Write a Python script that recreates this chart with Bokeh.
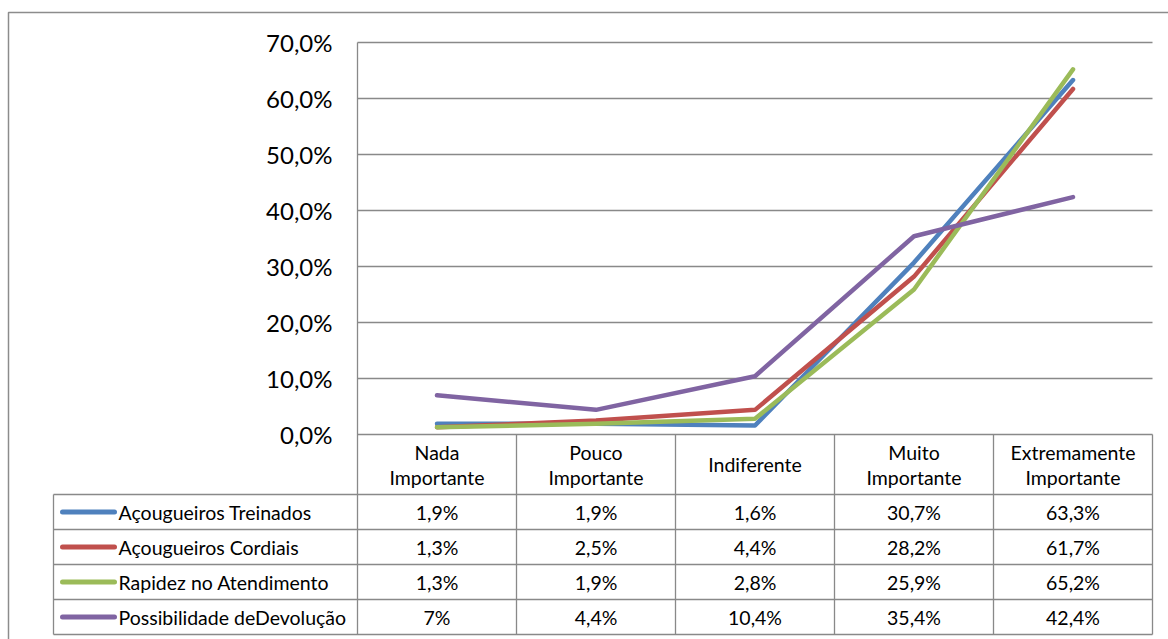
from bokeh.plotting import figure
from bokeh.models import Range1d
from bokeh.core.properties import value
from bokeh.embed import file_html
from bokeh.resources import INLINE

# ---- data -------------------------------------------------------------
categories = ["Nada Importante", "Pouco Importante", "Indiferente",
              "Muito Importante", "Extremamente Importante"]
category_lines = [["Nada", "Importante"], ["Pouco", "Importante"], ["Indiferente"],
                  ["Muito", "Importante"], ["Extremamente", "Importante"]]
series_names = ["Açougueiros Treinados", "Açougueiros Cordiais",
                "Rapidez no Atendimento", "Possibilidade deDevolução"]
treinados = [1.9, 1.9, 1.6, 30.7, 63.3]
cordiais = [1.3, 2.5, 4.4, 28.2, 61.7]
rapidez = [1.3, 1.9, 2.8, 25.9, 65.2]
devolucao = [7.0, 4.4, 10.4, 35.4, 42.4]
y_ticks = [0, 10, 20, 30, 40, 50, 60, 70]
y_tick_labels = ["0,0%", "10,0%", "20,0%", "30,0%", "40,0%", "50,0%", "60,0%", "70,0%"]

series = [treinados, cordiais, rapidez, devolucao]
colors = ["#4F81BD", "#C0504D", "#9BBB59", "#8064A2"]

# ---- layout (canvas pixels) ------------------------------------------
W, H = 1168, 639
ZERO_PX = 434.0       # pixel row of 0 %
PX_PER_PCT = 5.6      # pixels per percentage point
CAT0_PX = 436.5       # pixel column of the first category centre
CAT_PX = 159.0        # pixels per category
FONT = value("Lato")
TABLE_FONT_SIZE = "19.5px"
GRID = "#898989"


def X(px):
    return (px - CAT0_PX) / CAT_PX


def Y(py):
    return (ZERO_PX - py) / PX_PER_PCT


def fmt_cell(v):
    if float(v).is_integer():
        return f"{int(v)}%"
    return f"{v:.1f}".replace(".", ",") + "%"


n = len(categories)
idx = list(range(n))

p = figure(width=W, height=H, output_backend="svg", toolbar_location=None,
           x_range=Range1d(X(0), X(W)), y_range=Range1d(Y(H), Y(0)),
           x_axis_location=None, y_axis_location=None, min_border=0)
p.grid.visible = False
p.outline_line_color = None
p.background_fill_color = "white"
p.border_fill_color = "white"

# chart frame
p.line(x=[X(8), X(8), X(W + 10)], y=[Y(H + 10), Y(12), Y(12)],
       line_color="#8c8c8c", line_width=1.5)

# horizontal gridlines (0 % doubles as the category axis)
p.segment(x0=[-0.5] * len(y_ticks), x1=[n - 0.5] * len(y_ticks),
          y0=y_ticks, y1=y_ticks, line_color=GRID, line_width=1.3)

# data table grid
HEADER_BOTTOM = 494
ROW_H = 35
row_edges = [HEADER_BOTTOM + ROW_H * i for i in range(len(series) + 1)]
table_left = X(53)
p.segment(x0=[table_left] * len(row_edges), x1=[n - 0.5] * len(row_edges),
          y0=[Y(r) for r in row_edges], y1=[Y(r) for r in row_edges],
          line_color=GRID, line_width=1.3)
col_edges = [i - 0.5 for i in range(n + 1)]
p.segment(x0=col_edges, x1=col_edges,
          y0=[y_ticks[-1]] + [0] * n, y1=[Y(row_edges[-1])] * (n + 1),
          line_color=GRID, line_width=1.3)
p.segment(x0=[table_left], x1=[table_left],
          y0=[Y(HEADER_BOTTOM)], y1=[Y(row_edges[-1])],
          line_color=GRID, line_width=1.3)

# value axis labels
p.text(x=[X(332)] * len(y_ticks), y=y_ticks, text=y_tick_labels,
       text_align="right", text_baseline="middle", text_font=FONT,
       text_font_size="24px", text_color="#000000")

# series lines
for vals, col in zip(series, colors):
    p.line(x=idx, y=vals, line_color=col, line_width=4.5,
           line_cap="round", line_join="round")

# category header
hx, hy, ht = [], [], []
for i, lines in enumerate(category_lines):
    if len(lines) == 1:
        offsets = [464]
    else:
        offsets = [452, 477]
    for t, py in zip(lines, offsets):
        hx.append(i)
        hy.append(Y(py))
        ht.append(t)
p.text(x=hx, y=hy, text=ht, text_align="center", text_baseline="middle",
       text_font=FONT, text_font_size=TABLE_FONT_SIZE, text_color="#000000")

# table rows: legend key, series name, values
for r, (name, vals, col) in enumerate(zip(series_names, series, colors)):
    cy = Y(row_edges[r] + ROW_H / 2)
    p.line(x=[X(62), X(114)], y=[cy, cy], line_color=col, line_width=5,
           line_cap="round")
    p.text(x=[X(118)], y=[cy], text=[name], text_align="left",
           text_baseline="middle", text_font=FONT,
           text_font_size=TABLE_FONT_SIZE, text_color="#000000")
    p.text(x=idx, y=[cy] * n, text=[fmt_cell(v) for v in vals],
           text_align="center", text_baseline="middle", text_font=FONT,
           text_font_size=TABLE_FONT_SIZE, text_color="#000000")

open("out.html", "w").write(file_html(p, INLINE))
